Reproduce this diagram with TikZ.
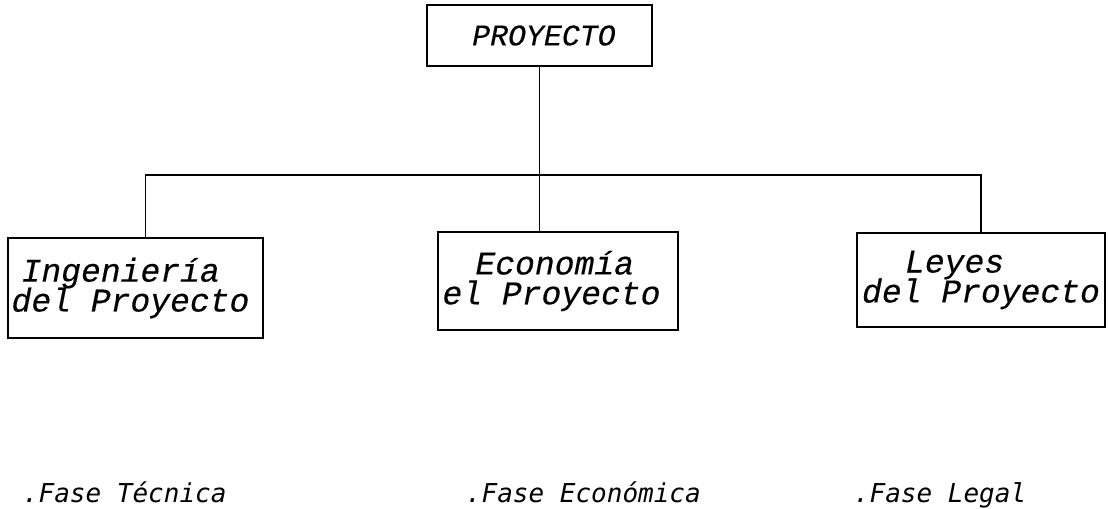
\documentclass[tikz,border=0pt]{standalone}
\usepackage{fontspec}
\usepackage{tikz}
\usetikzlibrary{positioning,calc}
\newfontfamily\boxmono[FakeBold=0.4]{Liberation Mono}
\newfontfamily\fasemono{DejaVu Sans Mono}
\newcommand{\boxtxt}{\boxmono\itshape\fontsize{18.8}{17}\selectfont\lineskiplimit=-30pt}
\newcommand{\toptxt}{\boxmono\itshape\fontsize{17}{16}\selectfont}
\newcommand{\fasetxt}{\fasemono\itshape\fontsize{14.8}{16}\selectfont}

\begin{document}
\begin{tikzpicture}[
  x=0.02cm, y=-0.02cm,
  line width=1.1pt,
  caja/.style={draw, rectangle, inner sep=2pt, align=left, font=\boxtxt},
  fase/.style={anchor=base west, inner sep=0pt, font=\fasetxt},
]
\useasboundingbox (0,0) rectangle (1108,508);

% ================= project =================
\node[caja, font=\toptxt, minimum width=4.5cm, minimum height=1.22cm] (proy) at (539.5,35.5) {\hspace*{0.3em}PROYECTO};

% ================= three parts =================
\node[caja, minimum width=5.1cm, minimum height=2.0cm] (ing) at (135.5,288)
  {\hspace*{0.2cm}Ingeniería\\del Proyecto\hspace*{0.2cm}};
\node[caja, minimum width=4.8cm, minimum height=1.96cm] (econ) at (558,281)
  {\hspace*{0.66cm}Economía\\el Proyecto\hspace*{0.26cm}};
\node[caja, minimum width=4.96cm, minimum height=1.88cm] (leyes) at (981,280)
  {\hspace*{0.86cm}Leyes\\del Proyecto};

% ================= connectors =================
\coordinate (barra) at (540,175);
\draw (proy.south) -- (proy.south |- econ.north);
\draw ([xshift=0.2cm]ing.north) |- (barra) -| (leyes.north);

% ================= phases =================
\node[fase] (fase1) at (22,502) {.Fase Técnica};
\node[fase] (fase2) at (465,502) {.Fase Económica};
\node[fase] (fase3) at (853,502) {.Fase Legal};
\end{tikzpicture}
\end{document}
